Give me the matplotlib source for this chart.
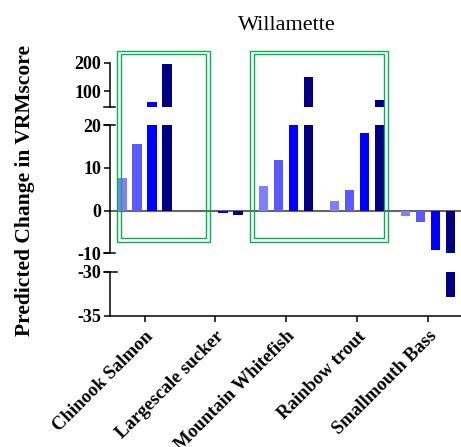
import matplotlib

matplotlib.use("Agg")
import matplotlib.pyplot as plt
import numpy as np
from matplotlib.patches import Rectangle
from matplotlib.transforms import blended_transform_factory

plt.rcParams["axes.unicode_minus"] = False

# --- data ----------------------------------------------------------------
species = ["Chinook Salmon", "Largescale sucker", "Mountain Whitefish",
           "Rainbow trout", "Smallmouth Bass"]
# four scenarios per species, light blue -> navy
scen1 = [7.7, 0.0, 5.8, 2.3, -1.2]
scen2 = [15.6, 0.0, 11.8, 4.8, -2.7]
scen3 = [60.0, -0.6, 30.0, 18.1, -9.3]
scen4 = [195.0, -1.0, 150.0, 68.0, -32.9]
bar_colors = ["#8080ff", "#5a5aff", "#0000ff", "#000080"]

# broken y axis: (low, high) per segment, top to bottom
segments = [(45, 200), (-10, 20), (-35, -30)]
seg_ticks = [[100, 200], [-10, 0, 10, 20], [-35, -30]]

title = "Willamette"
ylabel = "Predicted Change in VRMscore"
# green highlight boxes, x span in category units
box_spans = [(-0.39, 0.92), (1.49, 3.43)]

# --- layout (pixels of a 461x447 canvas) ---------------------------------
W, H = 461, 447
SERIF = "Liberation Serif"


def frac(x0, y_top, x1, y_bot):
    return [x0 / W, 1 - y_bot / H, (x1 - x0) / W, (y_bot - y_top) / H]


ax_rects = [frac(110, 62.7, 461, 106.7),
            frac(110, 125, 461, 253.3),
            frac(110, 271.7, 461, 316)]

fig = plt.figure(figsize=(W / 100, H / 100), dpi=100)

x = np.arange(len(species))
series = [scen1, scen2, scen3, scen4]
width = 0.134
offsets = [-0.318, -0.106, 0.106, 0.318]

axes = []
for i, (rect, (lo, hi), ticks) in enumerate(zip(ax_rects, segments, seg_ticks)):
    ax = fig.add_axes(rect)
    ax.set_facecolor("none")
    for vals, off, col in zip(series, offsets, bar_colors):
        ax.bar(x + off, vals, width=width, color=col, linewidth=0)
    ax.set_ylim(lo, hi)
    ax.set_xlim(-0.487, 4.467)
    for s in ("top", "right"):
        ax.spines[s].set_visible(False)
    ax.spines["left"].set_linewidth(1.1)
    ax.spines["bottom"].set_linewidth(1.1)
    if i < 2:
        ax.spines["bottom"].set_visible(False)
        ax.set_xticks([])
    ax.set_yticks(ticks)
    ax.tick_params(axis="y", direction="out", length=4.5, width=1.1,
                   pad=2, labelsize=13)
    for lab in ax.get_yticklabels():
        lab.set_fontfamily(SERIF)
        lab.set_fontweight("bold")
    # caps where the axis is broken
    tr = blended_transform_factory(ax.transAxes, ax.transData)
    if i == 0:
        ax.plot([-0.017, 0.014], [lo, lo], color="black", lw=1.1,
                transform=tr, clip_on=False)
    if i == 1:
        ax.plot([-0.017, 0.014], [hi, hi], color="black", lw=1.1,
                transform=tr, clip_on=False)
        ax.plot([-0.017, 0.014], [lo, lo], color="black", lw=1.1,
                transform=tr, clip_on=False)
        ax.axhline(0, color="#666666", lw=1.5, zorder=0.5)
    if i == 2:
        ax.plot([-0.017, 0.02], [hi, hi], color="black", lw=1.1,
                transform=tr, clip_on=False)
    axes.append(ax)

ax_bot = axes[2]
ax_bot.set_xticks(x)
ax_bot.set_xticklabels(species, rotation=45, ha="right",
                       rotation_mode="anchor", fontfamily=SERIF,
                       fontweight="bold", fontsize=13.5)
ax_bot.tick_params(axis="x", direction="out", length=4.5, width=1.1, pad=4)

# green double boxes (drawn on top of every axes)
ax_mid = axes[1]
for x0, x1 in box_spans:
    for dx, y0, y1 in [(0.0, -7.4, 37.3), (0.052, -6.5, 36.6)]:
        r = Rectangle((x0 + dx, y0), (x1 - x0) - 2 * dx, y1 - y0,
                      transform=ax_mid.transData, fill=False,
                      edgecolor="#00b050", lw=1.0, zorder=5, clip_on=False)
        fig.add_artist(r)

fig.text(286.7 / W, 1 - 25 / H, title, ha="center", va="center",
         fontsize=16, fontfamily=SERIF)
fig.text(25 / W, 1 - 190 / H, ylabel, ha="center", va="center",
         rotation=90, fontsize=15.5, fontweight="bold", fontfamily=SERIF)

fig.savefig("out.png", dpi=100)
